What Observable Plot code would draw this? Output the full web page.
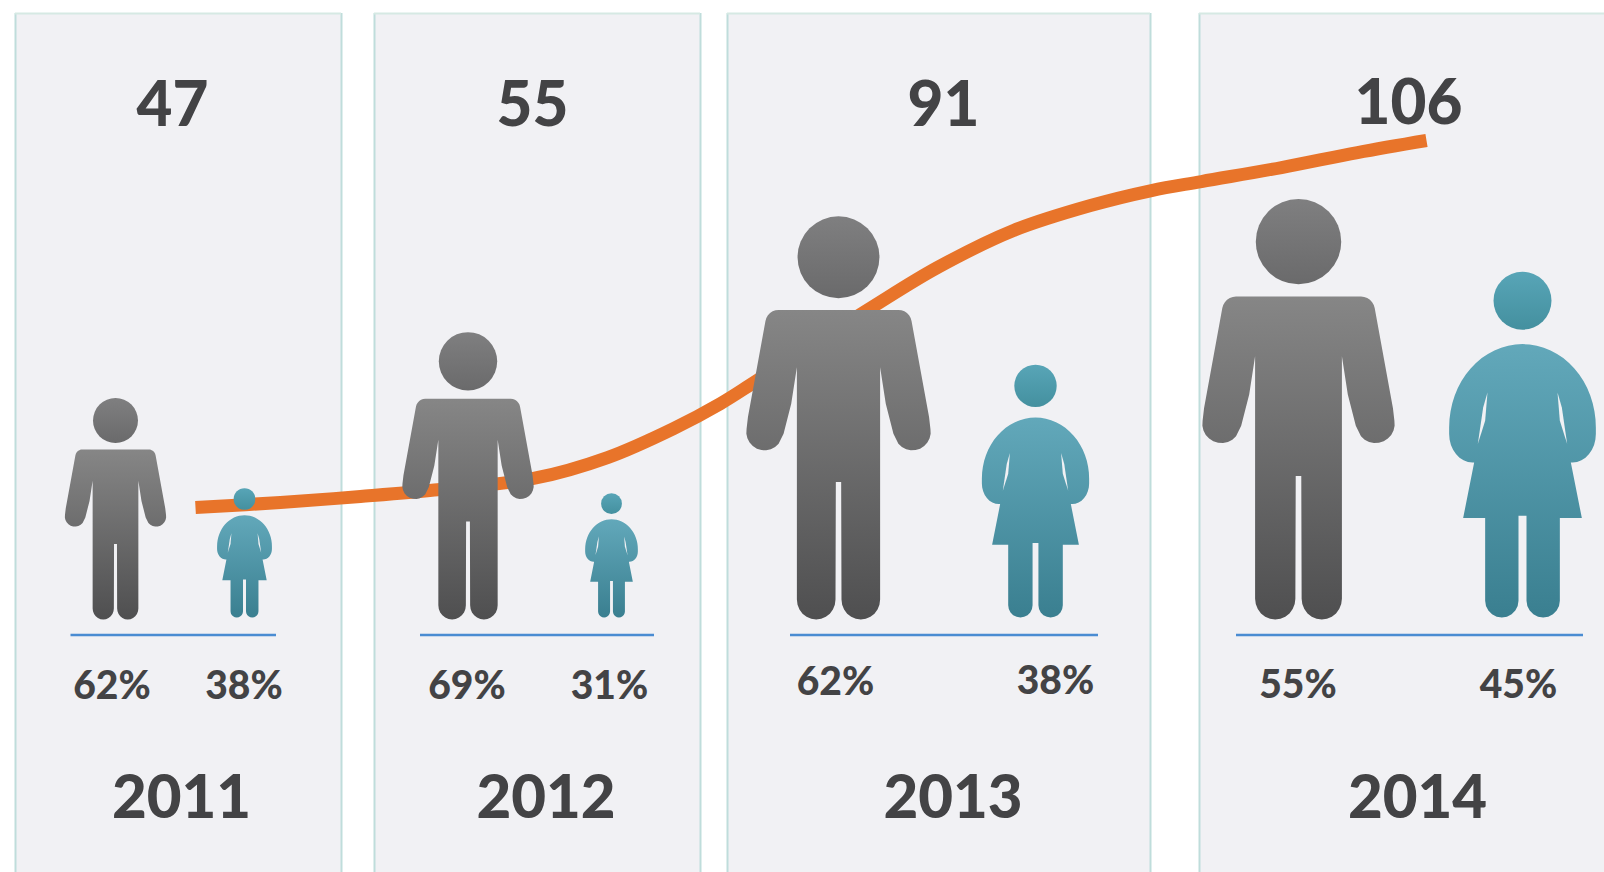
<!DOCTYPE html>
<html>
<head>
<meta charset="utf-8">
<script src="https://cdn.jsdelivr.net/npm/d3@7"></script>
<script src="https://cdn.jsdelivr.net/npm/@observablehq/plot@0.6"></script>
<style>html,body{margin:0;padding:0;background:#fff;overflow:hidden}svg{display:block}</style>
</head>
<body>
<div id="chart"></div>
<script>
// ---- data ----
const years = [2011, 2012, 2013, 2014];
const totals = [47, 55, 91, 106];
const malePct = [62, 69, 62, 55];
const femalePct = [38, 31, 38, 45];
// size of each pictogram, in persons
const maleSize = [30.6, 39.7, 55.7, 58.1];
const femaleSize = [17.8, 17.1, 34.8, 47.6];
// the orange trend line as drawn: position across the page, level in person units
const trendX = [195, 280, 360, 440, 533, 607, 673, 720, 755, 871, 937, 1013, 1090, 1151, 1201, 1281, 1357, 1426];
const trendLevel = [15.45, 16.14, 16.97, 17.93, 19.45, 22.34, 26.34, 29.79, 32.83, 43.03, 48.55, 53.66, 57.1, 59.17, 60.41, 62.34, 64.41, 66.07];

// ---- layout (page units) ----
const W = 1604, H = 872, baseY = 619, pxPerPerson = 7.25;
const lv = px => (baseY - px) / pxPerPerson;  // page row -> level on the y scale
const panelL = [15, 374, 727, 1199];
const panelR = [341, 700, 1150, 1606];
const ruleL = [70.5, 420, 790, 1236];
const ruleR = [276, 654, 1098, 1583];
const maleX = [115, 467.5, 838, 1298];
const femaleX = [244, 611, 1035, 1522];
const malePctX = [111.5, 466.5, 835, 1297.5];
const femalePctX = [243.5, 609, 1055, 1518];
const pctRow = [686, 686, 682, 685];
const femPctRow = [686, 686, 681, 685];
const totalX = [172, 532, 943, 1408];
const totalRow = [106, 106, 106, 104];
const yearX = [181, 545.5, 952.5, 1417];

// ---- pictogram outlines ----
function ell(cx, cy, rx, ry, a0, a1, n = 10) {
  return d3.range(n + 1).map(i => {
    const a = (a0 + (a1 - a0) * i / n) * Math.PI / 180;
    return [cx + rx * Math.cos(a), cy + ry * Math.sin(a)];
  });
}
function outline(half, top, foot) {
  const h = foot - top;
  const right = half.map(([x, y]) => [x / h, (foot - y) / h]);
  const left = right.slice().reverse().map(([x, y]) => [-x, y]);
  return right.concat(left);
}
const manShape = outline([
  [0, 328], [175, 328],
  ...ell(180, 368, 40, 40, -90, -10, 6),
  [272, 650],
  ...ell(222, 695, 55, 55, -10, 140, 10),
  [165, 700], [142, 610], [125, 500],
  ...ell(67, 1198, 58, 60, 0, 180, 12),
  [8, 845], [0, 845]
], 45, 1258);
const womanShape = outline([
  ...ell(0, 740, 220, 250, -90, 0, 16),
  ...ell(150, 760, 70, 85, 0, 90, 8),
  [145, 845], [178, 1012], [112, 1012],
  ...ell(62, 1260, 50, 50, 0, 180, 10),
  [12, 1005], [0, 1005]
], 275, 1310);
const slitShape = [[105, 635], [118, 680], [134, 790], [112, 720]].map(([x, y]) => [x / 1035, (1310 - y) / 1035]);
const manHead = {y: 0.897, r: 0.1014}, womanHead = {y: 0.918, r: 0.084};
const womanBase = 0.28;

function shapePoints(shape, xs, sizes, base) {
  return years.flatMap((yr, i) => shape.map(([dx, t]) => ({
    id: yr, x: xs[i] + dx * sizes[i] * pxPerPerson, y: base + t * sizes[i]
  })));
}
const menPts = shapePoints(manShape, maleX, maleSize, 0);
const womenPts = shapePoints(womanShape, femaleX, femaleSize, womanBase);
const slitPts = [1, -1].flatMap(s => years.flatMap((yr, i) => slitShape.map(([dx, t]) => ({
  id: yr + "_" + s, x: femaleX[i] + s * dx * femaleSize[i] * pxPerPerson, y: womanBase + t * femaleSize[i]
}))));
const panels = years.map((yr, i) => ({yr, l: panelL[i], r: panelR[i]}));
const trend = trendX.map((x, i) => ({x, y: trendLevel[i]}));
const idx = years.map((_, i) => i);
const panelBg = "#f1f1f4", ink = "#434345";
const txt = {fontFamily: "Lato", fontWeight: 900, fill: ink, textAnchor: "middle"};

const chart = Plot.plot({
  width: W, height: H, margin: 0,
  x: {domain: [0, W], range: [0, W], axis: null},
  y: {domain: [lv(H), lv(0)], range: [H, 0], axis: null},
  r: {type: "identity"},
  style: {background: "#fff"},
  marks: [
    Plot.rect(panels, {x1: "l", x2: "r", y1: lv(H), y2: lv(13), fill: panelBg}),
    Plot.ruleX(panelL, {y1: lv(H), y2: lv(13), stroke: "#bfdddb", strokeWidth: 2}),
    Plot.ruleX(panelR.slice(0, 3), {y1: lv(H), y2: lv(13), stroke: "#bfdddb", strokeWidth: 2}),
    Plot.ruleY(panels, {x1: "l", x2: "r", y: lv(13), stroke: "#d6e9e3", strokeWidth: 2}),
    Plot.line(trend, {x: "x", y: "y", curve: "catmull-rom", stroke: "#e8742a", strokeWidth: 13, strokeLinecap: "butt"}),
    Plot.line(menPts, {x: "x", y: "y", z: "id", fill: "url(#manGrad)", stroke: "none"}),
    Plot.line(womenPts, {x: "x", y: "y", z: "id", fill: "url(#womanGrad)", stroke: "none"}),
    Plot.line(slitPts, {x: "x", y: "y", z: "id", fill: panelBg, stroke: "none"}),
    Plot.dot(idx, {x: i => maleX[i], y: i => manHead.y * maleSize[i], r: i => manHead.r * maleSize[i] * pxPerPerson, fill: "url(#manHeadGrad)", stroke: "none"}),
    Plot.dot(idx, {x: i => femaleX[i], y: i => womanBase + womanHead.y * femaleSize[i], r: i => womanHead.r * femaleSize[i] * pxPerPerson, fill: "url(#womanHeadGrad)", stroke: "none"}),
    Plot.ruleY(idx, {x1: i => ruleL[i], x2: i => ruleR[i], y: lv(634.5), stroke: "#4a8cd2", strokeWidth: 2.5}),
    Plot.text(idx, {...txt, x: i => totalX[i], y: i => lv(totalRow[i]), text: i => String(totals[i]), fontSize: 62}),
    Plot.text(idx, {...txt, x: i => yearX[i], y: lv(798), text: i => String(years[i]), fontSize: 60}),
    Plot.text(idx, {...txt, x: i => malePctX[i], y: i => lv(pctRow[i]), text: i => malePct[i] + "%", fontSize: 39}),
    Plot.text(idx, {...txt, x: i => femalePctX[i], y: i => lv(femPctRow[i]), text: i => femalePct[i] + "%", fontSize: 39})
  ]
});
const ns = "http://www.w3.org/2000/svg";
const defs = document.createElementNS(ns, "defs");
[["manGrad", "#868686", "#4f4f50"], ["womanGrad", "#62a8ba", "#3a7f90"], ["manHeadGrad", "#7f7f80", "#6a6a6b"], ["womanHeadGrad", "#58a5b7", "#44909f"]].forEach(([id, a, b]) => {
  const g = document.createElementNS(ns, "linearGradient");
  g.setAttribute("id", id); g.setAttribute("x1", 0); g.setAttribute("x2", 0); g.setAttribute("y1", 0); g.setAttribute("y2", 1);
  [[0, a], [1, b]].forEach(([o, c]) => {
    const s = document.createElementNS(ns, "stop");
    s.setAttribute("offset", o); s.setAttribute("stop-color", c); g.appendChild(s);
  });
  defs.appendChild(g);
});
chart.insertBefore(defs, chart.firstChild);
document.getElementById("chart").appendChild(chart);
</script>
</body>
</html>
